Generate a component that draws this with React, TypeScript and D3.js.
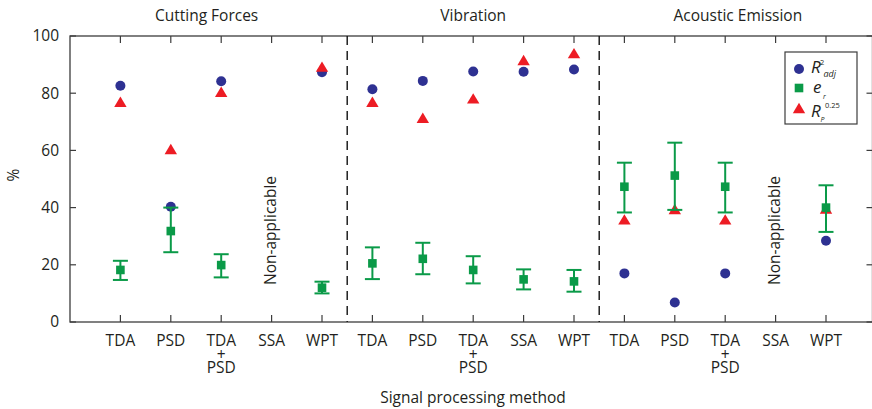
import React from "react";
import * as d3 from "d3";

const groups = ["Cutting Forces", "Vibration", "Acoustic Emission"];
const methods = ["TDA", "PSD", "TDA+PSD", "SSA", "WPT"];
// R²adj (blue circles)
const r2adj: (number | null)[][] = [
  [82.6, 40.3, 84.2, null, 87.3],
  [81.4, 84.3, 87.6, 87.5, 88.3],
  [17.0, 6.8, 17.0, null, 28.4],
];
// Rp^0.25 (red triangles)
const rp: (number | null)[][] = [
  [77.0, 60.5, 80.5, null, 89.3],
  [77.0, 71.4, 78.2, 91.6, 94.0],
  [35.9, 39.5, 35.9, null, 39.7],
];
// e_r (green squares) with error bars
const er: (number | null)[][] = [
  [18.2, 31.8, 19.9, null, 12.0],
  [20.5, 22.1, 18.2, 14.9, 14.2],
  [47.3, 51.2, 47.3, null, 40.0],
];
const erHigh: (number | null)[][] = [
  [21.4, 40.0, 23.7, null, 14.1],
  [26.1, 27.7, 23.0, 18.4, 18.2],
  [55.7, 62.7, 55.7, null, 47.8],
];
const erLow: (number | null)[][] = [
  [14.7, 24.4, 15.6, null, 10.0],
  [15.0, 16.7, 13.5, 11.4, 10.6],
  [38.3, 39.2, 38.3, null, 31.5],
];
const yTicks = [0, 20, 40, 60, 80, 100];
const naLabel = "Non-applicable";

const W = 872;
const H = 409;
const left = 70;
const right = 872.5;
const top = 36;
const bottom = 322;

const BLUE = "#2e3192";
const GREEN = "#0a9a48";
const RED = "#ed1c24";
const AXIS = "#3c3c3c";
const TXT = "#231f20";
const FONT = "'Open Sans', 'Noto Sans', sans-serif";

export default function App() {
  const x = d3.scaleLinear().domain([0, (right - left) / 50.4]).range([left, right]);
  const y = d3.scaleLinear().domain([0, 100]).range([bottom, top]);
  const pos = (g: number, i: number) => g * methods.length + i + 1;

  const allPos: { g: number; i: number; p: number }[] = [];
  groups.forEach((_, g) => methods.forEach((_, i) => allPos.push({ g, i, p: pos(g, i) })));
  const separators = [5.5, 10.5];

  const tri = (cx: number, cy: number) =>
    `M${cx},${cy - 5.2}L${cx - 6.2},${cy + 5.2}L${cx + 6.2},${cy + 5.2}Z`;

  const groupBounds = [
    [left, x(separators[0])],
    [x(separators[0]), x(separators[1])],
    [x(separators[1]), right],
  ];

  return (
    <svg
      width={W}
      height={H}
      style={{ position: "absolute", left: 0, top: 0, background: "#fff" }}
      fontFamily={FONT}
    >
      {/* titles */}
      {groups.map((t, g) => (
        <text
          key={t}
          x={(groupBounds[g][0] + groupBounds[g][1]) / 2 - (g === 0 ? 2 : g === 2 ? -2 : 0)}
          y={21}
          textAnchor="middle"
          fontSize={15.5}
          fill={TXT}
        >
          {t}
        </text>
      ))}

      {/* frame */}
      <rect x={left} y={top} width={right - left} height={bottom - top} fill="none" stroke={AXIS} strokeWidth={1.3} />

      {/* y ticks */}
      {yTicks.map((v) => (
        <g key={v}>
          <line x1={left} x2={left + 6} y1={y(v)} y2={y(v)} stroke={AXIS} strokeWidth={1.2} />
          <line x1={right - 6} x2={right} y1={y(v)} y2={y(v)} stroke={AXIS} strokeWidth={1.2} />
          <text x={59} y={y(v)} dy="0.35em" textAnchor="end" fontSize={15.5} fill={TXT}>
            {v}
          </text>
        </g>
      ))}
      <text
        transform={`translate(19,${(top + bottom) / 2 - 4}) rotate(-90)`}
        textAnchor="middle"
        fontSize={15.5}
        fill={TXT}
      >
        %
      </text>

      {/* x ticks and labels */}
      {allPos.map(({ g, i, p }) => {
        const xx = x(p);
        const parts = methods[i].split("+");
        return (
          <g key={`${g}-${i}`}>
            <line x1={xx} x2={xx} y1={bottom} y2={bottom - 7} stroke={AXIS} strokeWidth={1.2} />
            <line x1={xx} x2={xx} y1={top} y2={top + 7} stroke={AXIS} strokeWidth={1.2} />
            {parts.length === 1 ? (
              <text x={xx} y={346} textAnchor="middle" fontSize={15.5} fill={TXT}>
                {methods[i]}
              </text>
            ) : (
              <text textAnchor="middle" fontSize={15.5} fill={TXT}>
                <tspan x={xx} y={346}>{parts[0]}</tspan>
                <tspan x={xx} y={359.5}>+</tspan>
                <tspan x={xx} y={373}>{parts[1]}</tspan>
              </text>
            )}
          </g>
        );
      })}
      <text x={473} y={403} textAnchor="middle" fontSize={15.5} fill={TXT}>
        Signal processing method
      </text>

      {/* separators */}
      {separators.map((s) => (
        <line
          key={s}
          x1={x(s)}
          x2={x(s)}
          y1={top}
          y2={bottom}
          stroke="#111"
          strokeWidth={1.4}
          strokeDasharray="9,6"
        />
      ))}

      {/* non-applicable labels */}
      {er.map((row, g) =>
        row.map((v, i) =>
          v === null && r2adj[g][i] === null ? (
            <text
              key={`na-${g}-${i}`}
              transform={`translate(${x(pos(g, i)) - 1},${y(32)}) rotate(-90)`}
              textAnchor="middle"
              dy="0.35em"
              fontSize={15.5}
              fill={TXT}
            >
              {naLabel}
            </text>
          ) : null
        )
      )}

      {/* blue circles */}
      {r2adj.map((row, g) =>
        row.map((v, i) =>
          v === null ? null : (
            <circle key={`b-${g}-${i}`} cx={x(pos(g, i))} cy={y(v)} r={5} fill={BLUE} />
          )
        )
      )}
      {/* red triangles */}
      {rp.map((row, g) =>
        row.map((v, i) =>
          v === null ? null : <path key={`r-${g}-${i}`} d={tri(x(pos(g, i)), y(v))} fill={RED} />
        )
      )}
      {/* green error bars + squares */}
      {er.map((row, g) =>
        row.map((v, i) => {
          if (v === null) return null;
          const xx = x(pos(g, i));
          const hi = erHigh[g][i] as number;
          const lo = erLow[g][i] as number;
          return (
            <g key={`g-${g}-${i}`} stroke={GREEN} strokeWidth={2}>
              <line x1={xx} x2={xx} y1={y(hi)} y2={y(lo)} />
              <line x1={xx - 7.5} x2={xx + 7.5} y1={y(hi)} y2={y(hi)} />
              <line x1={xx - 7.5} x2={xx + 7.5} y1={y(lo)} y2={y(lo)} />
              <rect x={xx - 4.3} y={y(v) - 4.3} width={8.6} height={8.6} fill={GREEN} stroke="none" />
            </g>
          );
        })
      )}

      {/* legend */}
      <g>
        <rect x={785} y={52} width={72} height={72} fill="#fff" stroke={AXIS} strokeWidth={1.2} />
        <circle cx={799} cy={69} r={5} fill={BLUE} />
        <rect x={794.7} y={83.7} width={8.6} height={8.6} fill={GREEN} />
        <path d={tri(799, 108)} fill={RED} />
        <g fill={TXT}>
          <text x={811} y={73} fontSize={17} fontStyle="italic">R</text>
          <text x={820} y={65} fontSize={7.5}>2</text>
          <text x={823.5} y={77} fontSize={9} fontStyle="italic">adj</text>
          <text x={813} y={93} fontSize={17} fontStyle="italic">e</text>
          <text x={823} y={98.5} fontSize={7} fontStyle="italic">r</text>
          <text x={811} y={117} fontSize={17} fontStyle="italic">R</text>
          <text x={825} y={108} fontSize={7.5}>0.25</text>
          <text x={820.5} y={121.5} fontSize={7} fontStyle="italic">P</text>
        </g>
      </g>
    </svg>
  );
}
